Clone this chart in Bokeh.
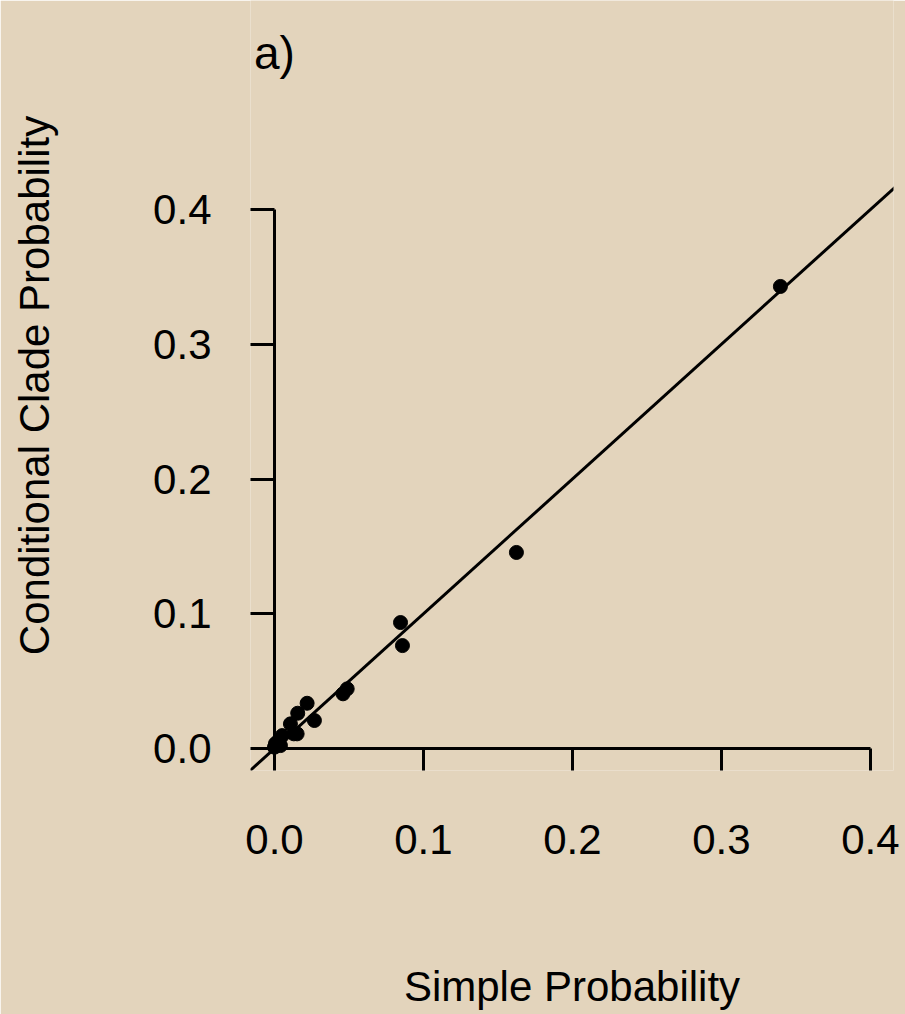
from bokeh.plotting import figure
from bokeh.models import LinearAxis, FixedTicker, NumeralTickFormatter, Slope, Range1d, Label, ColumnDataSource
from bokeh.embed import file_html
from bokeh.resources import INLINE

# Data
simple_prob = [0.3396, 0.1624, 0.0846, 0.0859, 0.0488, 0.0460, 0.0219, 0.0156,
               0.0268, 0.0107, 0.0152, 0.0130, 0.0052, 0.0029, 0.0007, 0.0000, 0.0040]
clade_prob = [0.3429, 0.1455, 0.0935, 0.0764, 0.0443, 0.0406, 0.0336, 0.0262,
              0.0208, 0.0183, 0.0109, 0.0109, 0.0096, 0.0060, 0.0037, 0.0010, 0.0022]
tick_values = [0.0, 0.1, 0.2, 0.3, 0.4]
x_title = "Simple Probability"
y_title = "Conditional Clade Probability"
panel_title = "a)"

BG = "#E3D4BC"
FONT = "Liberation Sans"

# frame runs up to the top edge so the panel tag can sit inside it
p = figure(width=905, height=1014, output_backend="svg", toolbar_location=None,
           x_range=Range1d(-0.0161, 0.4155), y_range=Range1d(-0.0163, 0.5551),
           x_axis_type=None, y_axis_type=None,
           min_border_left=250, min_border_right=12, min_border_top=0, min_border_bottom=244)
p.background_fill_color = BG
p.border_fill_color = BG
p.outline_line_color = None
p.xgrid.visible = False
p.ygrid.visible = False


def style_lines(ax):
    ax.axis_line_width = 3
    ax.axis_line_color = "black"
    ax.major_tick_line_width = 3
    ax.major_tick_line_color = "black"
    ax.major_tick_out = 32
    ax.major_tick_in = 0
    ax.minor_tick_out = 0
    ax.minor_tick_in = 0
    ax.major_label_text_alpha = 0
    ax.major_label_text_font_size = "1px"


def style_text(ax):
    ax.axis_line_color = None
    ax.major_tick_line_color = None
    ax.minor_tick_line_color = None
    ax.major_tick_out = 0
    ax.major_tick_in = 0
    ax.minor_tick_out = 0
    ax.minor_tick_in = 0
    ax.major_label_text_font = FONT
    ax.major_label_text_font_size = "42px"
    ax.major_label_text_color = "black"
    ax.axis_label_text_font = FONT
    ax.axis_label_text_font_size = "42px"
    ax.axis_label_text_font_style = "normal"
    ax.axis_label_text_color = "black"


# axis lines and ticks crossing at the data origin
xa = LinearAxis(fixed_location=0, bounds=(0, 0.4), ticker=FixedTicker(ticks=tick_values),
                formatter=NumeralTickFormatter(format="0.0"))
ya = LinearAxis(fixed_location=0, bounds=(0, 0.4), ticker=FixedTicker(ticks=tick_values),
                formatter=NumeralTickFormatter(format="0.0"))
style_lines(xa)
style_lines(ya)

# tick labels and titles in the side panels
xt = LinearAxis(ticker=FixedTicker(ticks=tick_values),
                formatter=NumeralTickFormatter(format="0.0"), axis_label=x_title)
yt = LinearAxis(ticker=FixedTicker(ticks=tick_values),
                formatter=NumeralTickFormatter(format="0.0"), axis_label=y_title)
style_text(xt)
style_text(yt)
xt.major_label_standoff = 54
yt.major_label_standoff = 39
xt.axis_label_standoff = 106
yt.axis_label_standoff = 92

p.add_layout(xt, "below")
p.add_layout(yt, "left")
p.add_layout(xa, "below")
p.add_layout(ya, "left")

p.add_layout(Slope(gradient=1, y_intercept=0, line_color="black", line_width=3))

src = ColumnDataSource(dict(x=simple_prob, y=clade_prob))
p.scatter("x", "y", source=src, size=14, color="black")

# panel tag "a)" centred above the origin
tag = Label(x=0, y=0.5165, text=panel_title, text_align="center", text_baseline="alphabetic",
            text_font=FONT, text_font_size="46px", text_color="black")
p.add_layout(tag)

open("out.html", "w").write(file_html(p, INLINE))
